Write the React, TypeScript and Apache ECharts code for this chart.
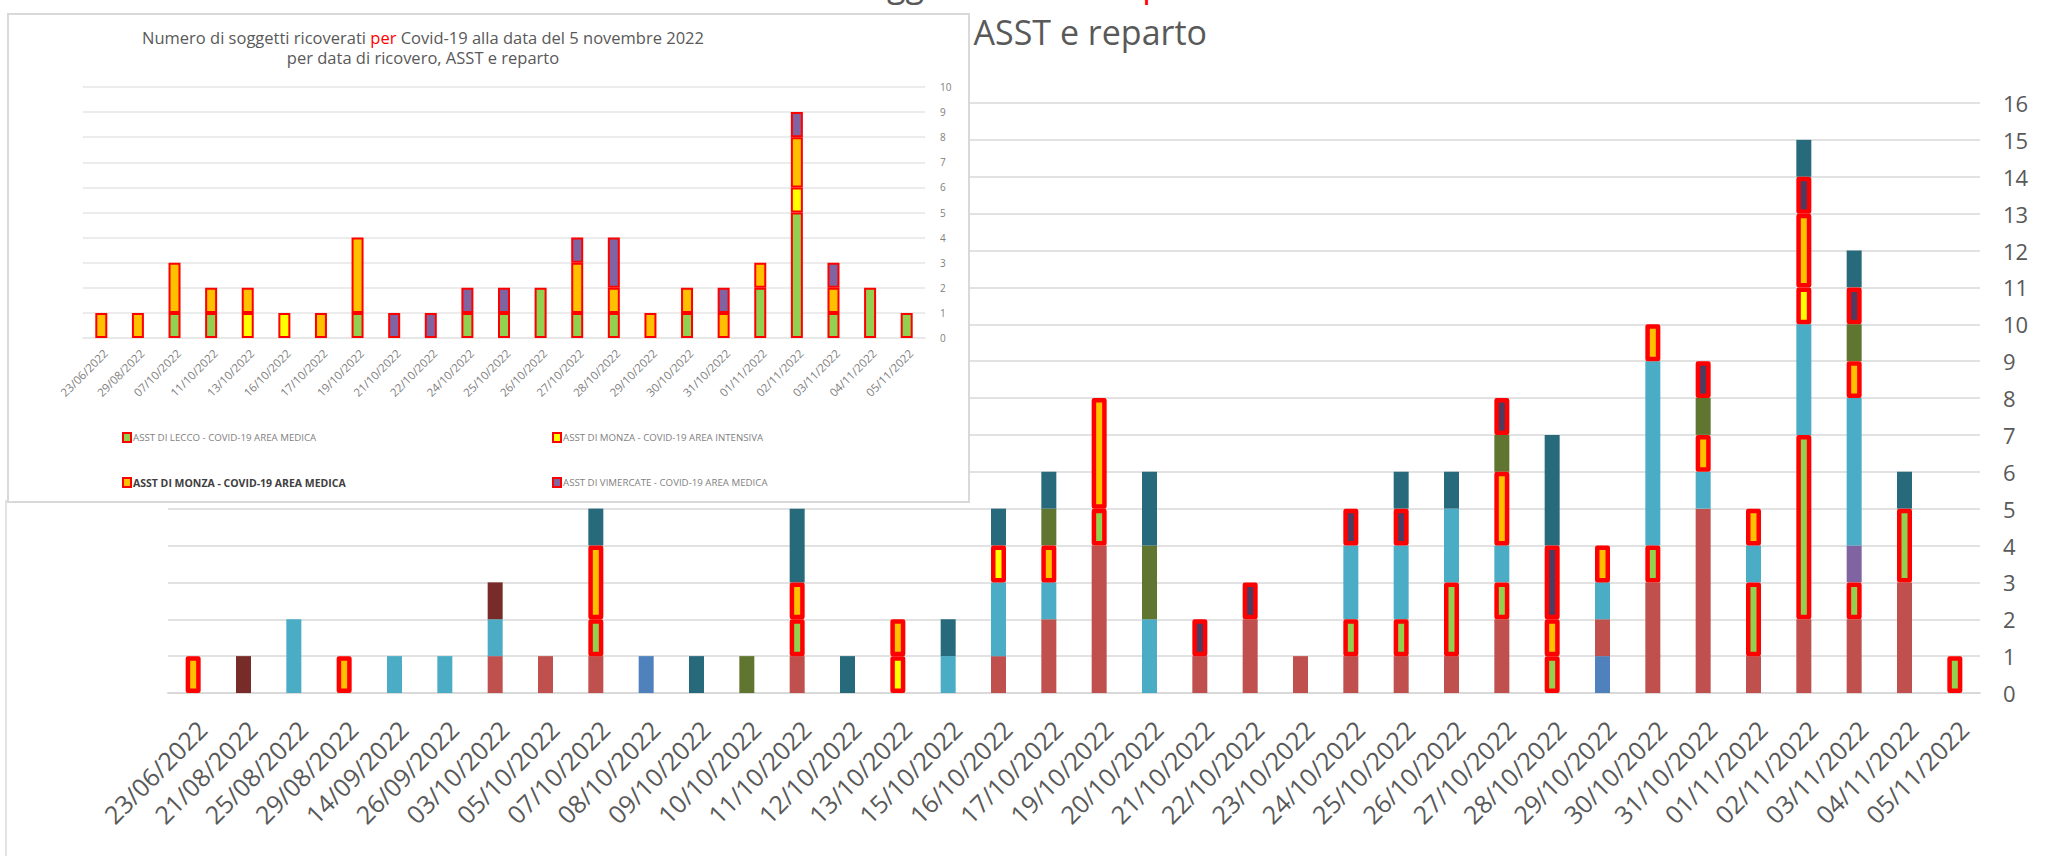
import React, { useEffect, useRef } from "react";
import * as echarts from "echarts";

// ---------- Main chart data ----------
const mainDates = [
  "23/06/2022", "21/08/2022", "25/08/2022", "29/08/2022", "14/09/2022", "26/09/2022",
  "03/10/2022", "05/10/2022", "07/10/2022", "08/10/2022", "09/10/2022", "10/10/2022",
  "11/10/2022", "12/10/2022", "13/10/2022", "15/10/2022", "16/10/2022", "17/10/2022",
  "19/10/2022", "20/10/2022", "21/10/2022", "22/10/2022", "23/10/2022", "24/10/2022",
  "25/10/2022", "26/10/2022", "27/10/2022", "28/10/2022", "29/10/2022", "30/10/2022",
  "31/10/2022", "01/11/2022", "02/11/2022", "03/11/2022", "04/11/2022", "05/11/2022",
];
const blueValues = [0,0,0,0,0,0,0,0,0,1,0,0,0,0,0,0,0,0,0,0,0,0,0,0,0,0,0,0,1,0,0,0,0,0,0,0];
const redValues = [0,0,0,0,0,0,1,1,1,0,0,0,1,0,0,0,1,2,4,0,1,2,1,1,1,1,2,0,1,3,5,1,2,2,3,0];
const leccoMedicaValues = [0,0,0,0,0,0,0,0,1,0,0,0,1,0,0,0,0,0,1,0,0,0,0,1,1,2,1,1,0,1,0,2,5,1,2,1];
const purpleValues = [0,0,0,0,0,0,0,0,0,0,0,0,0,0,0,0,0,0,0,0,0,0,0,0,0,0,0,0,0,0,0,0,0,1,0,0];
const aquaValues = [0,0,2,0,1,1,1,0,0,0,0,0,0,0,0,1,2,1,0,2,0,0,0,2,2,2,1,0,1,5,1,1,3,4,0,0];
const monzaIntensivaValues = [0,0,0,0,0,0,0,0,0,0,0,0,0,0,1,0,1,0,0,0,0,0,0,0,0,0,0,0,0,0,0,0,1,0,0,0];
const monzaMedicaValues = [1,0,0,1,0,0,0,0,2,0,0,0,1,0,1,0,0,1,3,0,0,0,0,0,0,0,2,1,1,1,1,1,2,1,0,0];
const darkRedValues = [0,1,0,0,0,0,1,0,0,0,0,0,0,0,0,0,0,0,0,0,0,0,0,0,0,0,0,0,0,0,0,0,0,0,0,0];
const oliveValues = [0,0,0,0,0,0,0,0,0,0,0,1,0,0,0,0,0,1,0,2,0,0,0,0,0,0,1,0,0,0,1,0,0,1,0,0];
const vimercateMedicaValues = [0,0,0,0,0,0,0,0,0,0,0,0,0,0,0,0,0,0,0,0,1,1,0,1,1,0,1,2,0,0,1,0,1,1,0,0];
const tealValues = [0,0,0,0,0,0,0,0,1,0,1,0,2,1,0,1,1,1,0,2,0,0,0,0,1,1,0,3,0,0,0,0,1,1,1,0];

// ---------- Inset chart data ----------
const insetDates = [
  "23/06/2022", "29/08/2022", "07/10/2022", "11/10/2022", "13/10/2022", "16/10/2022",
  "17/10/2022", "19/10/2022", "21/10/2022", "22/10/2022", "24/10/2022", "25/10/2022",
  "26/10/2022", "27/10/2022", "28/10/2022", "29/10/2022", "30/10/2022", "31/10/2022",
  "01/11/2022", "02/11/2022", "03/11/2022", "04/11/2022", "05/11/2022",
];
const insetLecco = [0,0,1,1,0,0,0,1,0,0,1,1,2,1,1,0,1,0,2,5,1,2,1];
const insetMonzaIntensiva = [0,0,0,0,1,1,0,0,0,0,0,0,0,0,0,0,0,0,0,1,0,0,0];
const insetMonzaMedica = [1,1,2,1,1,0,1,3,0,0,0,0,0,2,1,1,1,1,1,2,1,0,0];
const insetVimercate = [0,0,0,0,0,0,0,0,1,1,1,1,0,1,2,0,0,1,0,1,1,0,0];

const LECCO = "ASST DI LECCO - COVID-19 AREA MEDICA";
const MONZA_INT = "ASST DI MONZA - COVID-19 AREA INTENSIVA";
const MONZA_MED = "ASST DI MONZA - COVID-19 AREA MEDICA";
const VIMERCATE = "ASST DI VIMERCATE - COVID-19 AREA MEDICA";

const TITLE_L1_A = "Numero di soggetti ricoverati ";
const TITLE_L1_RED = "per";
const TITLE_L1_B = " Covid-19 alla data del 5 novembre 2022";
const TITLE_L2 = "per data di ricovero, ASST e reparto";

const FONT = "'Open Sans', 'Noto Sans', sans-serif";

const toBar = (v: number[]) => v.map((x) => (x === 0 ? null : x));

export default function App() {
  const mainRef = useRef<HTMLDivElement>(null);
  const insetRef = useRef<HTMLDivElement>(null);

  useEffect(() => {
    const main = echarts.init(mainRef.current!, undefined, { renderer: "svg" });
    const inset = echarts.init(insetRef.current!, undefined, { renderer: "svg" });

    const mainSeriesDefs = [
      { name: "Serie 1", values: blueValues, color: "#4F81BD", hl: false },
      { name: "Serie 2", values: redValues, color: "#C0504D", hl: false },
      { name: LECCO, values: leccoMedicaValues, color: "#92D050", hl: true },
      { name: "Serie 4", values: purpleValues, color: "#8064A2", hl: false },
      { name: "Serie 5", values: aquaValues, color: "#4BACC6", hl: false },
      { name: MONZA_INT, values: monzaIntensivaValues, color: "#FFFF00", hl: true },
      { name: MONZA_MED, values: monzaMedicaValues, color: "#FFC000", hl: true },
      { name: "Serie 8", values: darkRedValues, color: "#772C2A", hl: false },
      { name: "Serie 9", values: oliveValues, color: "#5F7530", hl: false },
      { name: VIMERCATE, values: vimercateMedicaValues, color: "#4D3B62", hl: true },
      { name: "Serie 11", values: tealValues, color: "#276A7C", hl: false },
    ];

    main.setOption({
      animation: false,
      backgroundColor: "#ffffff",
      grid: { left: 168, right: 83, top: 103, bottom: 163, outerBoundsMode: "none" },
      xAxis: {
        type: "category",
        data: mainDates,
        axisLine: { show: true, lineStyle: { color: "#d9d9d9", width: 2 } },
        axisTick: { show: false },
        axisLabel: {
          rotate: 45,
          interval: 0,
          fontSize: 25,
          color: "#595959",
          fontFamily: FONT,
          margin: 23,
          verticalAlign: "top",
        },
      },
      yAxis: {
        type: "value",
        position: "right",
        min: 0,
        max: 16,
        interval: 1,
        axisLine: { show: false },
        axisTick: { show: false },
        axisLabel: { fontSize: 22, color: "#595959", fontFamily: FONT, margin: 23 },
        splitLine: { lineStyle: { color: "#d9d9d9", width: 1.5 } },
      },
      series: mainSeriesDefs.map((s) => ({
        name: s.name,
        type: "bar",
        stack: "total",
        barWidth: 15,
        z: s.hl ? 3 : 2,
        data: toBar(s.values),
        itemStyle: {
          color: s.color,
          borderColor: s.hl ? "#FF0000" : s.color,
          borderWidth: s.hl ? 4.5 : 0,
          borderJoin: "round",
        },
        emphasis: { disabled: true },
      })),
      graphic: [
        {
          type: "text",
          x: 1251,
          y: 1,
          style: {
            text: `{a|${TITLE_L1_A}}{r|${TITLE_L1_RED}}{a|${TITLE_L1_B}}`,
            align: "center",
            verticalAlign: "bottom",
            fontSize: 34,
            fontFamily: FONT,
            fill: "#595959",
            rich: {
              a: { fontSize: 34, fontFamily: FONT, fill: "#595959" },
              r: { fontSize: 34, fontFamily: FONT, fill: "#FF0000" },
            },
          },
        },
        {
          type: "text",
          x: 1207,
          y: 32,
          style: {
            text: TITLE_L2,
            align: "right",
            verticalAlign: "middle",
            fontSize: 34,
            fontFamily: FONT,
            fill: "#595959",
          },
        },
        {
          type: "line",
          shape: { x1: 6, y1: 500, x2: 6, y2: 856 },
          style: { stroke: "#d9d9d9", lineWidth: 1.5 },
        },
      ],
    });

    const insetDefs = [
      { name: LECCO, values: insetLecco, color: "#92D050" },
      { name: MONZA_INT, values: insetMonzaIntensiva, color: "#FFFF00" },
      { name: MONZA_MED, values: insetMonzaMedica, color: "#FFC000" },
      { name: VIMERCATE, values: insetVimercate, color: "#8064A2" },
    ];

    const legendPos = [
      { name: LECCO, left: 113, top: 417, bold: false },
      { name: MONZA_INT, left: 543, top: 417, bold: false },
      { name: MONZA_MED, left: 113, top: 462, bold: true },
      { name: VIMERCATE, left: 543, top: 462, bold: false },
    ];

    inset.setOption({
      animation: false,
      backgroundColor: "#ffffff",
      grid: { left: 74, right: 43, top: 72, bottom: 163, outerBoundsMode: "none" },
      legend: legendPos.map((l) => ({
        data: [l.name],
        left: l.left,
        top: l.top,
        padding: 0,
        icon: "rect",
        itemWidth: 8,
        itemHeight: 9,
        selectedMode: false,
        textStyle: {
          fontSize: l.bold ? 10.5 : 9.7,
          fontFamily: FONT,
          color: l.bold ? "#404040" : "#7f7f7f",
          fontWeight: l.bold ? "bold" : "normal",
          padding: [0, 0, 0, -3],
        },
      })),
      xAxis: {
        type: "category",
        data: insetDates,
        axisLine: { show: true, lineStyle: { color: "#e6e6e6", width: 1.5 } },
        axisTick: { show: false },
        axisLabel: {
          rotate: 45,
          interval: 0,
          fontSize: 11.5,
          color: "#808080",
          fontFamily: FONT,
          margin: 9,
          verticalAlign: "top",
        },
      },
      yAxis: {
        type: "value",
        position: "right",
        min: 0,
        max: 10,
        interval: 1,
        axisLine: { show: false },
        axisTick: { show: false },
        axisLabel: { fontSize: 10, color: "#808080", fontFamily: FONT, margin: 15 },
        splitLine: { lineStyle: { color: "#e6e6e6", width: 1.5 } },
      },
      series: insetDefs.map((s) => ({
        name: s.name,
        type: "bar",
        stack: "total",
        barWidth: 12,
        data: toBar(s.values),
        itemStyle: { color: s.color, borderColor: "#FF0000", borderWidth: 2 },
        emphasis: { disabled: true },
      })),
      graphic: [
        {
          type: "text",
          x: 414,
          y: 22,
          style: {
            text: `{a|${TITLE_L1_A}}{r|${TITLE_L1_RED}}{a|${TITLE_L1_B}}`,
            align: "center",
            verticalAlign: "middle",
            fontSize: 16.5,
            fontFamily: FONT,
            fill: "#595959",
            rich: {
              a: { fontSize: 16.5, fontFamily: FONT, fill: "#595959" },
              r: { fontSize: 16.5, fontFamily: FONT, fill: "#FF0000" },
            },
          },
        },
        {
          type: "text",
          x: 414,
          y: 42,
          style: {
            text: TITLE_L2,
            align: "center",
            verticalAlign: "middle",
            fontSize: 16.5,
            fontFamily: FONT,
            fill: "#595959",
          },
        },
      ],
    });

    return () => {
      main.dispose();
      inset.dispose();
    };
  }, []);

  return (
    <div
      style={{
        position: "fixed",
        left: 0,
        top: 0,
        width: 2063,
        height: 856,
        background: "#ffffff",
        overflow: "hidden",
      }}
    >
      <div ref={mainRef} style={{ position: "absolute", left: 0, top: 0, width: 2063, height: 856 }} />
      <div
        style={{
          position: "absolute",
          left: 7,
          top: 13,
          width: 963,
          height: 490,
          border: "2px solid #d9d9d9",
          boxSizing: "border-box",
          background: "#ffffff",
        }}
      >
        <div ref={insetRef} style={{ width: 959, height: 486 }} />
      </div>
    </div>
  );
}
